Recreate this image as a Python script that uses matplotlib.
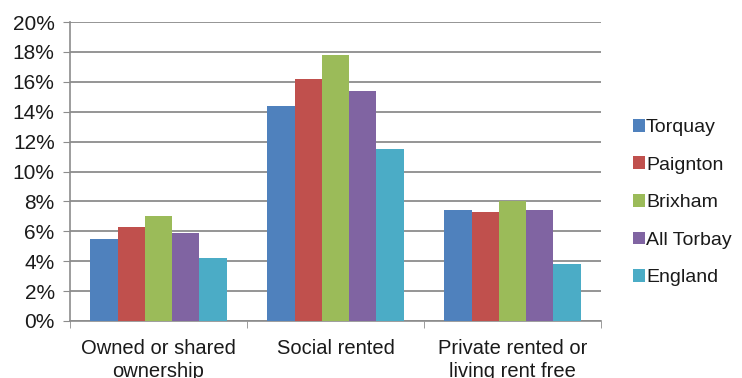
import numpy as np
import matplotlib.pyplot as plt
from matplotlib.ticker import FuncFormatter

categories = ['Owned or shared\nownership', 'Social rented', 'Private rented or\nliving rent free']
areas = ['Torquay', 'Paignton', 'Brixham', 'All Torbay', 'England']
torquay = [5.5, 14.4, 7.4]
paignton = [6.3, 16.2, 7.3]
brixham = [7.0, 17.8, 8.0]
all_torbay = [5.9, 15.4, 7.4]
england = [4.2, 11.5, 3.8]
colours = ['#4F81BD', '#C0504D', '#9BBB59', '#8064A2', '#4BACC6']

plt.rcParams['font.family'] = ['Liberation Sans', 'DejaVu Sans']

fig = plt.figure(figsize=(7.42, 3.78), dpi=100)
ax = fig.add_axes([70/742, 1 - 321/378, 531/742, 299/378])

series = [torquay, paignton, brixham, all_torbay, england]
x = np.arange(len(categories))
w = 1 / 6.5
for i, (name, vals) in enumerate(zip(areas, series)):
    ax.bar(x + (i - 2) * w, vals, w, color=colours[i], label=name, zorder=3)

ax.set_xlim(-0.5, 2.5)
ax.set_ylim(0, 20)
ax.set_yticks(np.arange(0, 21, 2))
ax.yaxis.set_major_formatter(FuncFormatter(lambda v, p: '%d%%' % v))
ax.grid(axis='y', color='#8c8c8c', linewidth=1.3, zorder=0)

ax.set_xticks(x)
ax.set_xticklabels(categories, fontsize=14.5, color='#1a1a1a', linespacing=1.25)
ax.set_xticks([-0.5, 0.5, 1.5, 2.5], minor=True)
ax.tick_params(axis='x', which='major', length=0, pad=13)
ax.tick_params(axis='x', which='minor', length=5, color='#8c8c8c')
ax.tick_params(axis='y', length=5, color='#8c8c8c', labelsize=15,
               labelcolor='#1a1a1a', pad=6)

for s in ['top', 'right']:
    ax.spines[s].set_visible(False)
for s in ['left', 'bottom']:
    ax.spines[s].set_color('#8c8c8c')
    ax.spines[s].set_linewidth(1.2)

ax.legend(loc='center left', bbox_to_anchor=(1.042, 0.396), frameon=False,
          fontsize=14, handlelength=0.62, handleheight=0.62, handletextpad=0.05,
          labelspacing=1.05, labelcolor='#1a1a1a', borderpad=0)

fig.savefig('out.png', dpi=100)
